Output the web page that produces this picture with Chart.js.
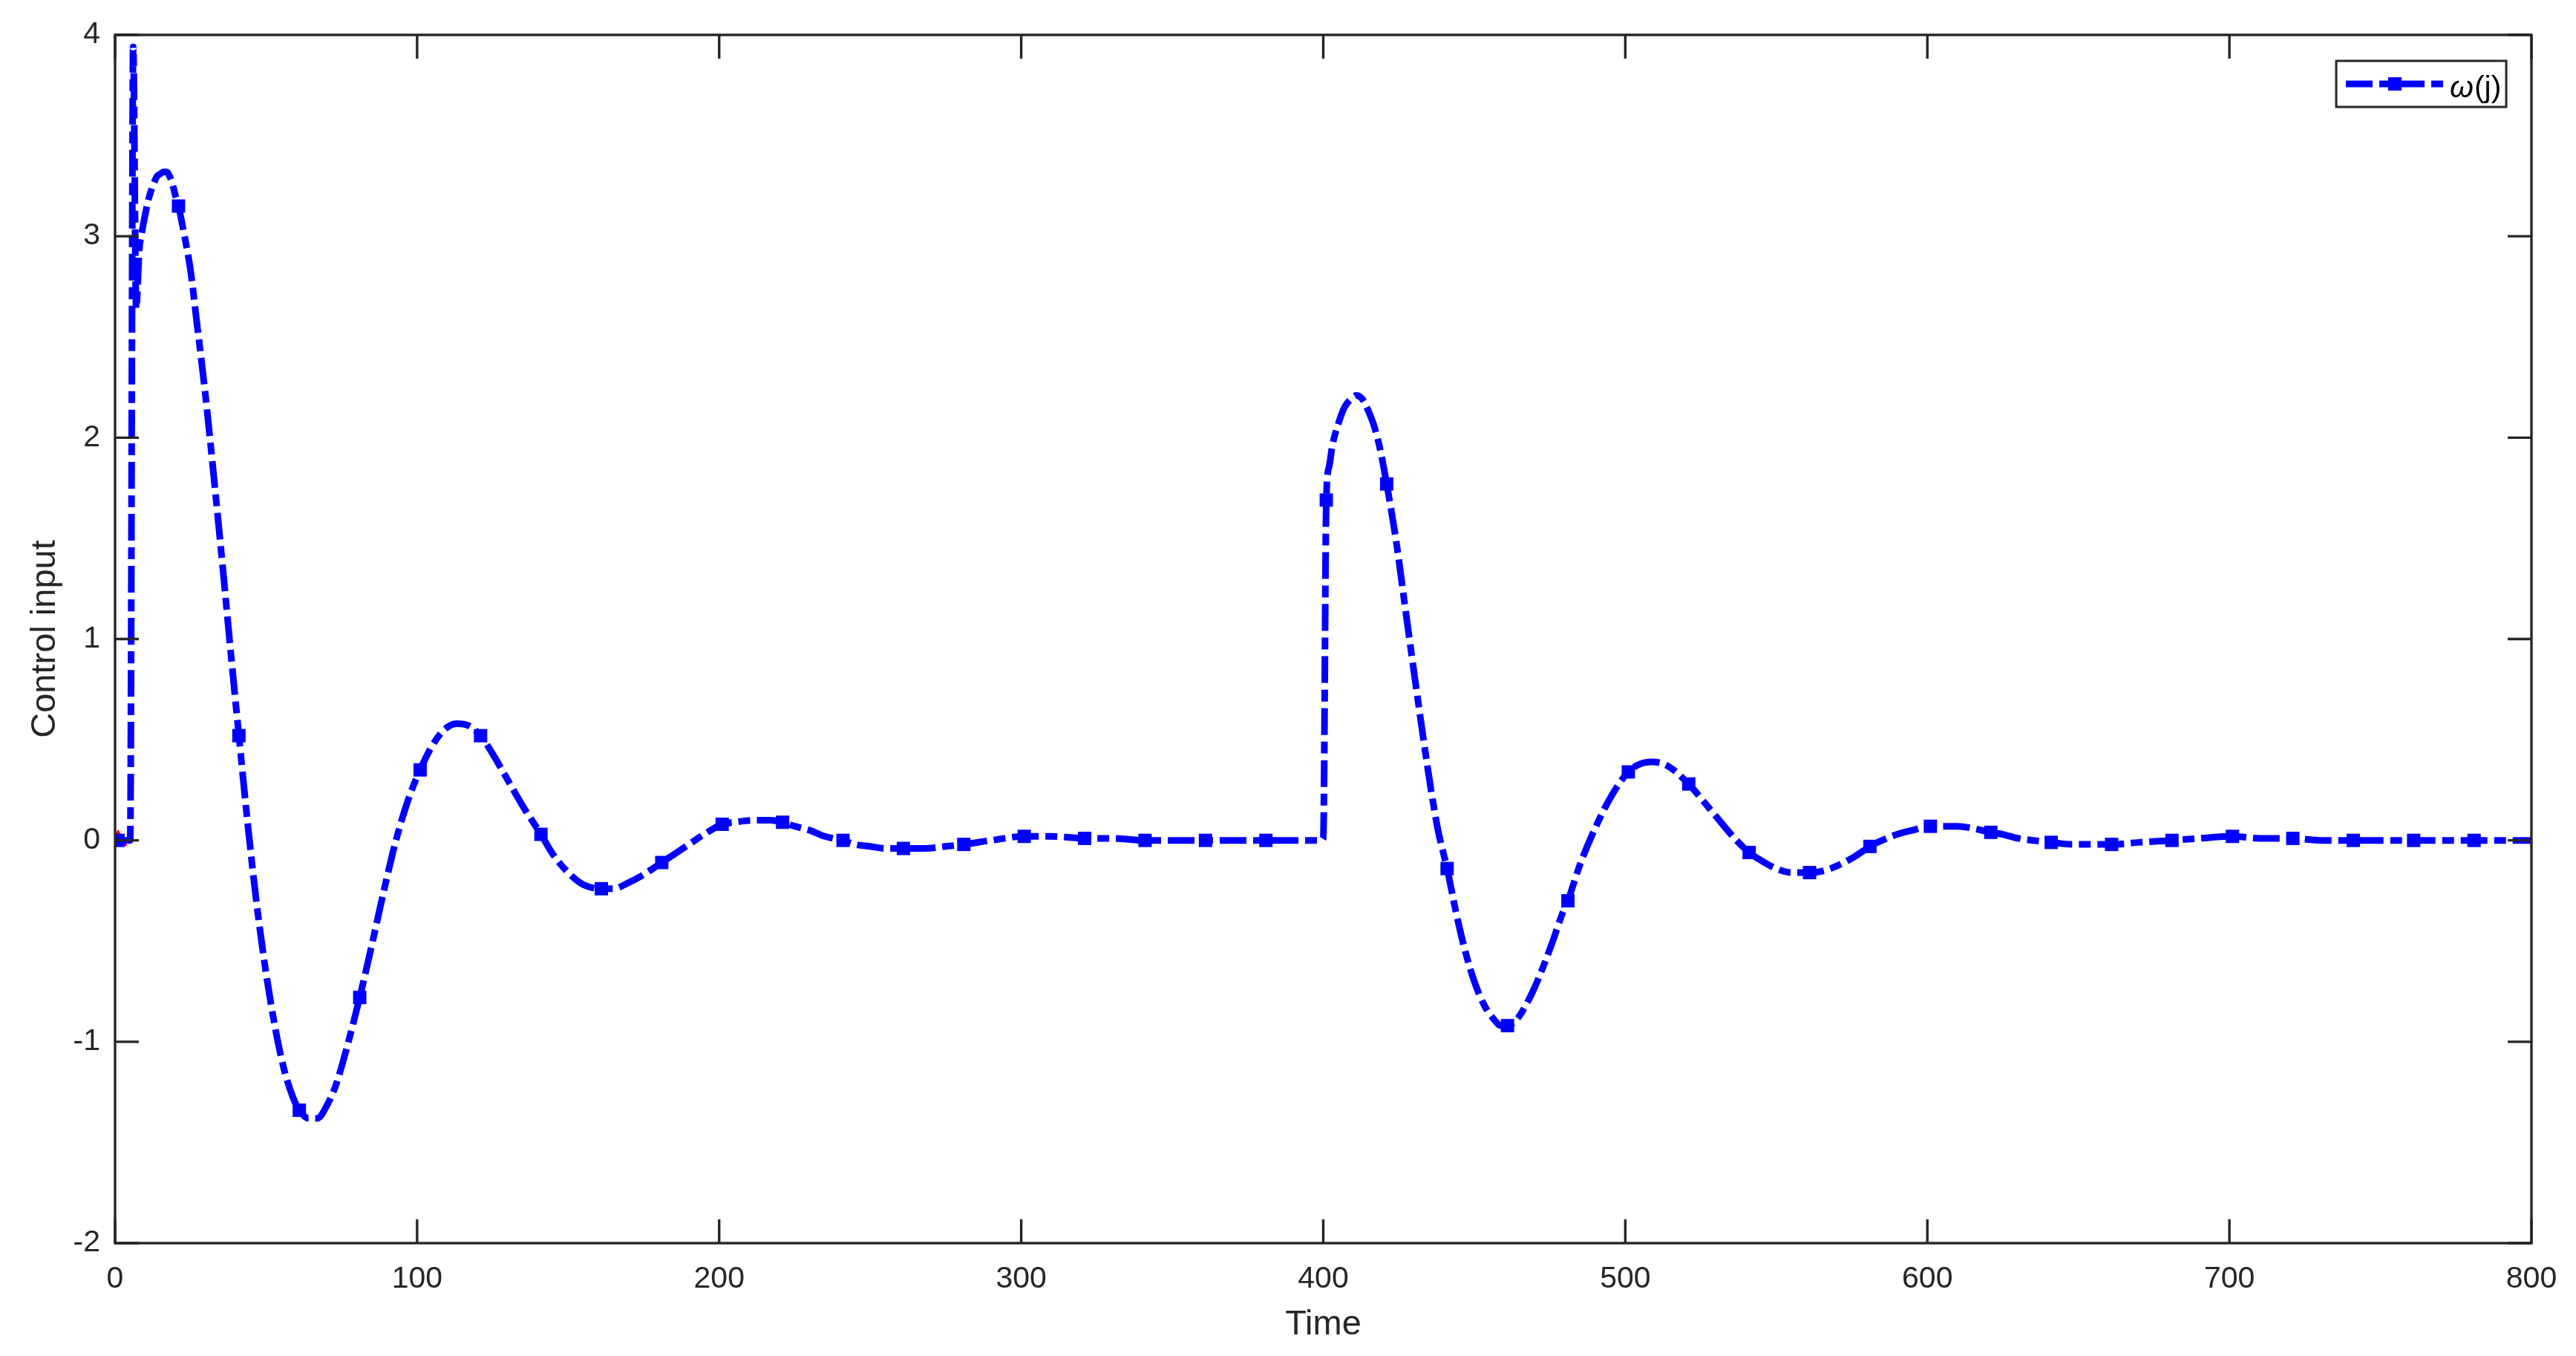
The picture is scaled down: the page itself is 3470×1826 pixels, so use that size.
<!DOCTYPE html>
<html>
<head>
<meta charset="utf-8">
<script src="https://cdn.jsdelivr.net/npm/chart.js@4.4.1/dist/chart.umd.min.js"></script>
<style>
	html, body { margin: 0; padding: 0; background: #fff; }
	#wrap { width: 3470px; height: 1826px; }
</style>
</head>
<body>
<div id="wrap"><canvas id="chart"></canvas></div>
<script>
// time samples and control input
const times = [
	1, 5, 6, 7, 8, 9, 10, 11, 12, 13, 14, 15, 16, 17, 18, 19, 20, 21, 23, 25, 27, 30, 33, 36, 38,
	41, 44, 47, 50, 53, 56, 59, 61, 64, 67, 70, 73, 76, 79, 81, 85, 89, 93, 97, 101, 105, 109,
	113, 117, 121, 125, 130, 135, 141, 145, 150, 155, 161, 165, 170, 175, 181, 185, 190, 195,
	201, 205, 212, 217, 221, 225, 230, 235, 241, 245, 250, 255, 261, 268, 275, 281, 290, 301,
	310, 321, 330, 341, 361, 381, 399, 400, 401, 402, 403, 405, 407, 409, 411, 413, 415, 417,
	419, 421, 424, 427, 430, 433, 436, 438, 441, 444, 447, 450, 453, 456, 459, 461, 464, 467,
	470, 473, 476, 479, 481, 485, 490, 495, 501, 505, 509, 514, 521, 525, 530, 535, 541, 545,
	550, 555, 561, 566, 571, 576, 581, 585, 590, 595, 601, 605, 610, 615, 621, 625, 630, 635,
	641, 648, 655, 661, 670, 681, 690, 701, 710, 721, 730, 741, 761, 781, 800
];
const omega = [
	0, 0, 3.94, 2.64, 2.93, 3.03, 3.11, 3.18, 3.23, 3.27, 3.30, 3.31, 3.32, 3.32, 3.30, 3.26, 3.20, 3.15, 3.00, 2.83, 2.58, 2.20, 1.76, 1.30, 0.98,
	0.52, 0.07, -0.33, -0.66, -0.93, -1.14, -1.28, -1.34, -1.38, -1.38, -1.32, -1.22, -1.07, -0.90, -0.78, -0.52, -0.25, 0.00, 0.20, 0.35, 0.47, 0.55,
	0.58, 0.57, 0.52, 0.43, 0.30, 0.17, 0.03, -0.07, -0.16, -0.22, -0.24, -0.24, -0.21, -0.17, -0.11, -0.07, -0.02, 0.03,
	0.08, 0.09, 0.10, 0.10, 0.09, 0.07, 0.05, 0.02, 0.00, -0.02, -0.03, -0.04, -0.04, -0.04, -0.03, -0.02, 0.00, 0.02,
	0.02, 0.01, 0.01, 0.00, 0.00, 0.00, 0.00, 0.01, 1.69, 1.86, 1.96, 2.07, 2.15, 2.19, 2.21, 2.19, 2.13, 2.05,
	1.93, 1.77, 1.50, 1.17, 0.84, 0.52, 0.22, 0.05, -0.14, -0.36, -0.55, -0.70, -0.81, -0.88, -0.92, -0.92, -0.89, -0.82,
	-0.73, -0.62, -0.50, -0.37, -0.30, -0.12, 0.06, 0.21, 0.34, 0.38, 0.39, 0.37, 0.28, 0.21, 0.12, 0.03, -0.06, -0.10,
	-0.14, -0.16, -0.16, -0.15, -0.12, -0.08, -0.03, 0.00, 0.03, 0.05, 0.07, 0.07, 0.07, 0.06, 0.04, 0.03, 0.01, 0.00,
	-0.01, -0.02, -0.02, -0.02, -0.01, 0.00, 0.01, 0.02, 0.01, 0.01, 0.00, 0.00, 0.00, 0.00, 0.00
];
// square markers every 20 samples, starting at t = 1
const markerStart = 1;
const markerStep = 20;

// second (red) series, only its first point shows from under the blue one
const refTimes = [1];
const refValues = [0];

const xMin = 0, xMax = 800, xStep = 100;
const yMin = -2, yMax = 4, yStep = 1;

const axisColor = "#262626";
const lineBlue = "#0000ff";
const dashPattern = [36, 9, 16, 9];

const points = times.map((t, i) => ({ x: t, y: omega[i] }));
const refPoints = refTimes.map((t, i) => ({ x: t, y: refValues[i] }));

const isMarker = t => t >= markerStart && (t - markerStart) % markerStep === 0;

// box with inward ticks on all four sides
const boxAxes = {
	id: "boxAxes",
	afterDatasetsDraw(chart) {
		const { ctx, chartArea: a, scales } = chart;
		const tick = 32;
		ctx.save();
		ctx.strokeStyle = axisColor;
		ctx.lineWidth = 3.4;
		ctx.beginPath();
		scales.x.ticks.forEach(t => {
			const px = scales.x.getPixelForValue(t.value);
			ctx.moveTo(px, a.bottom); ctx.lineTo(px, a.bottom - tick);
			ctx.moveTo(px, a.top); ctx.lineTo(px, a.top + tick);
		});
		scales.y.ticks.forEach(t => {
			const py = scales.y.getPixelForValue(t.value);
			ctx.moveTo(a.left, py); ctx.lineTo(a.left + tick, py);
			ctx.moveTo(a.right, py); ctx.lineTo(a.right - tick, py);
		});
		ctx.stroke();
		ctx.strokeRect(a.left, a.top, a.right - a.left, a.bottom - a.top);
		ctx.restore();
	}
};

// MATLAB style legend in the upper right corner
const boxLegend = {
	id: "boxLegend",
	afterDraw(chart) {
		const { ctx, chartArea: a } = chart;
		const ds = chart.data.datasets[0];
		const w = 229, h = 62;
		const x = a.right - 263, y = a.top + 35;
		ctx.save();
		ctx.fillStyle = "#fff";
		ctx.fillRect(x, y, w, h);
		ctx.strokeStyle = axisColor;
		ctx.lineWidth = 3;
		ctx.strokeRect(x, y, w, h);

		const ly = y + 31;
		ctx.strokeStyle = ds.borderColor;
		ctx.lineWidth = ds.borderWidth;
		ctx.setLineDash(ds.borderDash);
		ctx.beginPath();
		ctx.moveTo(x + 13, ly);
		ctx.lineTo(x + 145, ly);
		ctx.stroke();
		ctx.setLineDash([]);
		ctx.fillStyle = ds.borderColor;
		ctx.fillRect(x + 79 - 9, ly - 9, 18, 18);

		ctx.fillStyle = "#000";
		ctx.textBaseline = "alphabetic";
		ctx.textAlign = "left";
		const label = ds.label;
		ctx.font = "italic 41px 'Liberation Sans', Arial, sans-serif";
		ctx.fillText(label[0], x + 153, y + 49);
		const wGreek = ctx.measureText(label[0]).width;
		ctx.font = "41px 'Liberation Sans', Arial, sans-serif";
		ctx.fillText(label.slice(1), x + 153 + wGreek + 1, y + 49);
		ctx.restore();
	}
};

const ctx = document.getElementById("chart");
new Chart(ctx, {
	type: "line",
	data: {
		datasets: [
			{
				label: "\u03c9(j)",
				data: points,
				borderColor: lineBlue,
				backgroundColor: lineBlue,
				borderWidth: 9,
				borderDash: dashPattern,
				borderCapStyle: "butt",
				cubicInterpolationMode: "monotone",
				pointStyle: "rect",
				pointRadius: c => (c.raw && isMarker(c.raw.x) ? 12.7 : 0),
				pointBorderWidth: 0,
				pointHoverRadius: 0,
				fill: false,
				order: 1
			},
			{
				label: "ref",
				data: refPoints,
				showLine: false,
				pointStyle: "triangle",
				pointRadius: 15,
				pointBorderWidth: 0,
				backgroundColor: "#ff0000",
				borderColor: "#ff0000",
				order: 2
			}
		]
	},
	options: {
		responsive: true,
		maintainAspectRatio: false,
		animation: false,
		devicePixelRatio: 1,
		layout: { padding: { top: 47, right: 60, left: 0, bottom: 0 } },
		plugins: {
			legend: { display: false },
			tooltip: { enabled: false }
		},
		scales: {
			x: {
				type: "linear",
				min: xMin,
				max: xMax,
				grid: { display: false, drawTicks: false },
				border: { display: false },
				ticks: {
					stepSize: xStep,
					maxRotation: 0,
					padding: 24,
					color: axisColor,
					font: { family: "'Liberation Sans', Arial, sans-serif", size: 41 }
				},
				title: {
					display: true,
					text: "Time",
					color: axisColor,
					padding: { top: 0, bottom: 14 },
					font: { family: "'Liberation Sans', Arial, sans-serif", size: 47 }
				},
				afterFit: s => { s.height = 152; }
			},
			y: {
				min: yMin,
				max: yMax,
				grid: { display: false, drawTicks: false },
				border: { display: false },
				ticks: {
					stepSize: yStep,
					padding: 20,
					color: axisColor,
					font: { family: "'Liberation Sans', Arial, sans-serif", size: 41 }
				},
				title: {
					display: true,
					text: "Control input",
					color: axisColor,
					padding: { top: 33, bottom: 0 },
					font: { family: "'Liberation Sans', Arial, sans-serif", size: 47 }
				},
				afterFit: s => { s.width = 155; }
			}
		}
	},
	plugins: [boxAxes, boxLegend]
});
</script>
</body>
</html>
